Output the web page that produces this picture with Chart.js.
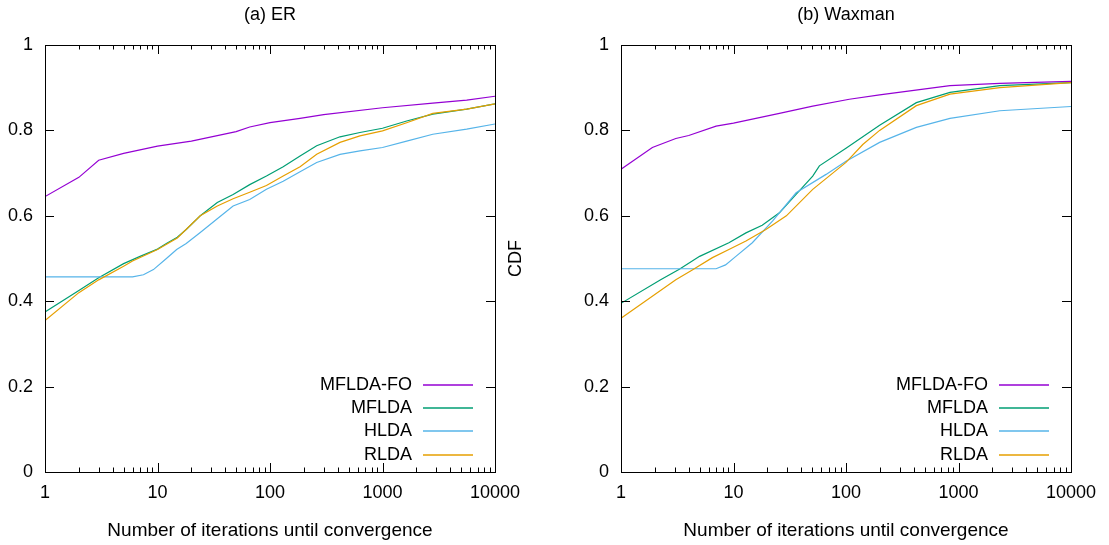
<!DOCTYPE html>
<html>
<head>
<meta charset="utf-8">
<script src="https://cdn.jsdelivr.net/npm/chart.js@4/dist/chart.umd.min.js"></script>
<style>
  html, body { margin: 0; padding: 0; background: #fff; }
  body { width: 1109px; height: 545px; position: relative; overflow: hidden; }
  .panel { position: absolute; top: 0; height: 545px; }
  #boxER { left: 0; width: 540px; }
  #boxWax { left: 500px; width: 609px; }
</style>
</head>
<body>
<div class="panel" id="boxER"><canvas id="chartER"></canvas></div>
<div class="panel" id="boxWax"><canvas id="chartWax"></canvas></div>
<script>
const seriesNames = ['MFLDA-FO', 'MFLDA', 'HLDA', 'RLDA'];
const seriesColors = ['#9400d3', '#009e73', '#56b4e9', '#e69f00'];
const xTickLabels = [1, 10, 100, 1000, 10000];
const yTickLabels = [0, 0.2, 0.4, 0.6, 0.8, 1];

// (a) ER
const erFoX = [1, 2, 3, 5, 10, 20, 50, 66, 100, 185, 300, 1000, 2800, 5600, 10000];
const erFoY = [0.645, 0.69, 0.73, 0.746, 0.763, 0.775, 0.797, 0.808, 0.818, 0.828, 0.837, 0.853, 0.864, 0.871, 0.880];
const erMfX = [1, 2, 3, 5, 7, 10, 12, 15, 18, 24, 34, 47, 66, 93, 131, 185, 260, 419, 630, 1000, 1640, 2800, 5600, 10000];
const erMfY = [0.375, 0.425, 0.455, 0.488, 0.505, 0.522, 0.535, 0.55, 0.568, 0.60, 0.631, 0.65, 0.673, 0.693, 0.715, 0.74, 0.764, 0.785, 0.795, 0.805, 0.822, 0.838, 0.85, 0.862];
const erHlX = [1, 6, 7.5, 9.2, 12, 14.8, 18, 24, 34, 47, 66, 93, 131, 185, 260, 419, 630, 1000, 1640, 2800, 5600, 10000];
const erHlY = [0.457, 0.457, 0.462, 0.474, 0.50, 0.521, 0.535, 0.561, 0.593, 0.623, 0.638, 0.662, 0.681, 0.703, 0.725, 0.744, 0.752, 0.76, 0.775, 0.791, 0.803, 0.815];
const erRlX = [1, 2, 3, 5, 6, 10, 15, 24, 34, 47, 66, 93, 131, 185, 260, 419, 630, 1000, 1640, 2800, 5600, 10000];
const erRlY = [0.355, 0.42, 0.45, 0.482, 0.494, 0.521, 0.548, 0.60, 0.623, 0.64, 0.655, 0.671, 0.693, 0.715, 0.744, 0.772, 0.787, 0.799, 0.818, 0.84, 0.85, 0.862];

// (b) Waxman
const wxFoX = [1, 1.9, 3.07, 4, 7, 10, 25.6, 50.6, 107, 199, 840, 2330, 10000];
const wxFoY = [0.709, 0.76, 0.781, 0.788, 0.81, 0.817, 0.84, 0.857, 0.873, 0.883, 0.905, 0.91, 0.915];
const wxMfX = [1, 2.25, 3.3, 5, 9.1, 12.9, 18, 25.6, 36, 50.6, 58, 100, 199, 422, 840, 2330, 10000];
const wxMfY = [0.395, 0.45, 0.475, 0.505, 0.537, 0.56, 0.578, 0.607, 0.65, 0.693, 0.717, 0.758, 0.812, 0.865, 0.889, 0.905, 0.912];
const wxHlX = [1, 7, 8.5, 10.5, 14.7, 22.3, 36, 66.5, 100, 199, 422, 840, 2330, 10000];
const wxHlY = [0.476, 0.476, 0.485, 0.505, 0.537, 0.588, 0.654, 0.697, 0.728, 0.772, 0.807, 0.828, 0.846, 0.856];
const wxRlX = [1, 3.07, 4.3, 6.5, 9.1, 12.9, 19.4, 29.5, 50.6, 100, 141, 199, 422, 840, 2330, 10000];
const wxRlY = [0.36, 0.45, 0.473, 0.502, 0.521, 0.541, 0.568, 0.60, 0.662, 0.725, 0.767, 0.80, 0.858, 0.885, 0.90, 0.912];

const FONT = '"Liberation Sans", Arial, sans-serif';

// log tick positions 1..9, 10..90, ... 10000
const logTicks = [];
for (let d = 1; d < 10000; d *= 10) for (let m = 1; m < 10; m++) logTicks.push(m * d);
logTicks.push(10000);

const pts = (xs, ys) => xs.map((x, i) => ({ x, y: ys[i] }));

// gnuplot-like frame: border, inward ticks, panel title, legend
const framePlugin = {
  id: 'frame',
  afterDatasetsDraw(chart, args, opts) {
    const { ctx, chartArea: a } = chart;
    const xs = chart.scales.x, ys = chart.scales.y;
    ctx.save();
    ctx.strokeStyle = '#000';
    ctx.lineWidth = 1;
    ctx.beginPath();
    xs.ticks.forEach(t => {
      const px = Math.round(xs.getPixelForValue(t.value)) + 0.5;
      const len = xTickLabels.includes(t.value) ? 9 : 4.5;
      ctx.moveTo(px, a.bottom); ctx.lineTo(px, a.bottom - len);
      ctx.moveTo(px, a.top); ctx.lineTo(px, a.top + len);
    });
    ys.ticks.forEach(t => {
      const py = Math.round(ys.getPixelForValue(t.value)) + 0.5;
      ctx.moveTo(a.left, py); ctx.lineTo(a.left + 9, py);
      ctx.moveTo(a.right, py); ctx.lineTo(a.right - 9, py);
    });
    ctx.stroke();
    ctx.strokeRect(Math.round(a.left) + 0.5, Math.round(a.top) + 0.5, Math.round(a.right - a.left), Math.round(a.bottom - a.top));

    ctx.fillStyle = '#000';
    ctx.font = '18px ' + FONT;
    ctx.textAlign = 'center';
    ctx.textBaseline = 'middle';
    ctx.fillText(opts.title, (a.left + a.right) / 2, 15);

    ctx.textAlign = 'right';
    ctx.lineWidth = 1.5;
    chart.data.datasets.forEach((ds, i) => {
      const y = Math.round(a.bottom - 87 + i * 23.2);
      ctx.fillText(ds.label, a.right - 83, y);
      ctx.strokeStyle = ds.borderColor;
      ctx.beginPath();
      ctx.moveTo(a.right - 72, y);
      ctx.lineTo(a.right - 22, y);
      ctx.stroke();
    });
    ctx.restore();
  }
};

function makePanel(id, title, xsList, ysList, axisWidth, padRight, yTitle) {
  const datasets = seriesNames.map((name, i) => ({
    label: name,
    data: pts(xsList[i], ysList[i]),
    borderColor: seriesColors[i],
    borderWidth: 1.2,
    pointRadius: 0,
    tension: 0,
    fill: false,
    order: seriesNames.length - i
  }));
  return new Chart(document.getElementById(id), {
    type: 'line',
    data: { datasets },
    plugins: [framePlugin],
    options: {
      animation: false,
      responsive: true,
      maintainAspectRatio: false,
      layout: { padding: { top: 45, right: padRight, bottom: 0, left: 0 } },
      plugins: {
        legend: { display: false },
        tooltip: { enabled: false },
        frame: { title }
      },
      scales: {
        x: {
          type: 'logarithmic',
          min: 1,
          max: 10000,
          afterBuildTicks: s => { s.ticks = logTicks.map(v => ({ value: v })); },
          afterFit: s => { s.height = 73; },
          grid: { display: false, drawTicks: false },
          border: { display: false },
          ticks: {
            autoSkip: false,
            maxRotation: 0,
            padding: 10,
            color: '#000',
            font: { family: FONT, size: 18 },
            callback: v => xTickLabels.includes(v) ? String(v) : ''
          },
          title: {
            display: true,
            text: 'Number of iterations until convergence',
            color: '#000',
            font: { family: FONT, size: 19 },
            padding: { top: 0, bottom: 3 }
          }
        },
        y: {
          min: 0,
          max: 1,
          afterBuildTicks: s => { s.ticks = yTickLabels.map(v => ({ value: v })); },
          afterFit: s => { s.width = axisWidth; },
          grid: { display: false, drawTicks: false },
          border: { display: false },
          ticks: {
            padding: 12,
            color: '#000',
            font: { family: FONT, size: 18 },
            callback: v => String(v)
          },
          title: {
            display: !!yTitle,
            text: yTitle || '',
            color: '#000',
            font: { family: FONT, size: 18 },
            padding: { top: 5, bottom: 0 }
          }
        }
      }
    }
  });
}

makePanel('chartER', '(a) ER',
  [erFoX, erMfX, erHlX, erRlX], [erFoY, erMfY, erHlY, erRlY], 45, 45, null);
makePanel('chartWax', '(b) Waxman',
  [wxFoX, wxMfX, wxHlX, wxRlX], [wxFoY, wxMfY, wxHlY, wxRlY], 121, 38, 'CDF');
</script>
</body>
</html>
